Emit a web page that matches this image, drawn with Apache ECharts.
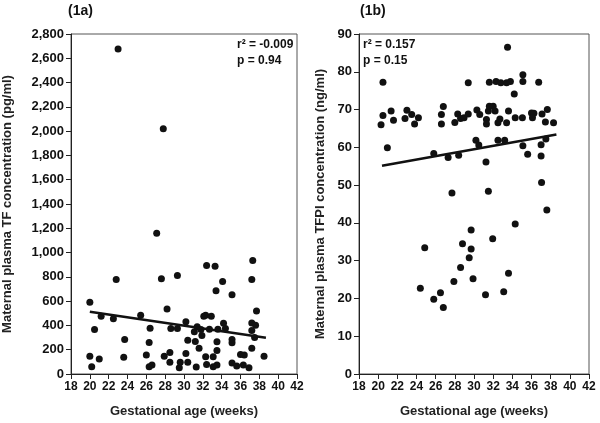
<!DOCTYPE html>
<html><head><meta charset="utf-8">
<script src="https://cdn.jsdelivr.net/npm/echarts@6/dist/echarts.min.js"></script>
<style>html,body{margin:0;padding:0;background:#fff}#c{width:600px;height:423px}</style>
</head><body><div id="c"></div>
<script>
// Panel (1a): TF concentration (pg/ml) vs gestational age (weeks)
const tfWeeks = [20.0,20.0,20.2,20.5,21.0,21.2,22.5,22.8,23.7,23.6,25.4,26.0,26.3,26.4,26.3,26.6,27.6,27.9,28.2,28.5,28.5,28.6,29.3,29.3,29.5,29.6,30.2,30.2,30.4,30.4,31.1,31.2,31.3,31.4,31.6,31.8,31.9,32.1,32.3,32.3,32.4,32.4,32.7,32.9,33.1,33.1,33.3,33.4,33.5,33.5,33.5,33.6,34.1,34.2,34.4,35.1,35.1,35.1,35.1,35.6,36.0,36.4,36.3,36.9,37.2,37.2,37.3,37.2,37.2,37.5,37.6,37.7,38.5,23.0,27.8,27.1];
const tfValues = [590,147,60,366,123,475,456,778,284,137,483,156,259,377,60,74,784,147,535,177,96,374,811,374,52,96,431,169,278,96,347,268,57,390,213,366,317,475,483,142,893,79,369,475,142,60,887,685,194,265,74,369,762,418,374,653,284,257,90,66,161,156,74,52,213,778,934,358,420,300,401,519,147,2677,2019,1159];
const tfFitWeeks = [20.0, 38.7];
const tfFitValues = [513, 298];

// Panel (1b): TFPI concentration (ng/ml) vs gestational age (weeks)
const tfpiWeeks = [20.5,20.5,20.3,21.35,21.6,23.0,22.8,23.5,23.8,24.2,26.6,26.6,26.8,28.0,28.3,28.6,28.96,29.4,29.4,30.3,30.6,31.3,31.3,31.5,31.6,32.0,31.6,32.3,32.2,32.7,32.5,32.8,33.4,33.5,33.4,33.8,33.6,34.2,34.3,35.1,35.1,35.05,36.0,36.25,36.1,36.75,37.1,37.65,37.45,38.3,20.96,25.8,27.3,28.4,30.2,30.5,32.5,33.2,31.25,31.5,27.7,35.1,35.6,37.0,37.0,37.5,37.05,37.6,34.3,24.86,28.8,29.7,29.7,31.95,29.5,28.6,24.4,25.8,26.5,26.8,27.9,29.9,31.2,33.1,33.6];
const tfpiValues = [77.2,68.4,66.0,69.6,67.2,69.8,67.6,68.7,66.2,67.8,68.7,66.2,70.8,66.6,68.8,67.6,67.8,77.1,68.8,69.9,68.7,67.4,66.2,69.6,70.9,70.9,77.2,77.4,69.6,67.5,66.5,77.1,66.5,86.5,77.1,77.4,69.6,74.1,67.8,79.2,77.4,67.8,69.1,69.0,67.8,77.2,68.8,70.0,66.7,66.5,59.9,58.4,57.3,57.9,61.9,60.6,61.9,61.9,56.1,48.4,47.9,60.4,58.2,60.7,57.7,62.2,50.7,43.4,39.7,33.4,34.5,38.1,33.1,35.8,30.8,28.2,22.7,19.8,21.5,17.6,24.5,25.2,21.0,21.8,26.7];
const tfpiFitWeeks = [20.4, 38.6];
const tfpiFitValues = [55.1, 63.4];

const xTicks = {min: 18, max: 42, interval: 2};
const tfTicks = {min: 0, max: 2800, interval: 200};
const tfpiTicks = {min: 0, max: 90, interval: 10};

const zip = (a, b) => a.map((v, i) => [v, b[i]]);
const FONT = 'Liberation Sans';
const ink = '#111';

const chart = echarts.init(document.getElementById('c'), null, {renderer: 'canvas'});
const xAxisBase = (gi) => ({
  type: 'value', gridIndex: gi, min: xTicks.min, max: xTicks.max, interval: xTicks.interval,
  name: 'Gestational age (weeks)', nameLocation: 'middle', nameGap: 31,
  nameTextStyle: {fontFamily: FONT, fontWeight: 'bold', fontSize: 13, color: '#222'},
  axisLine: {show: true, onZero: false, lineStyle: {color: '#222', width: 1}},
  axisTick: {show: true, length: 5, lineStyle: {color: '#222'}},
  axisLabel: {fontFamily: FONT, fontWeight: 'bold', fontSize: 12, color: '#111', margin: 7},
  splitLine: {show: false}
});
const yAxisBase = (gi, t, name, gap, fmt) => ({
  type: 'value', gridIndex: gi, min: t.min, max: t.max, interval: t.interval,
  name: name, nameLocation: 'middle', nameGap: gap,
  nameTextStyle: {fontFamily: FONT, fontWeight: 'bold', fontSize: 13, color: '#222'},
  axisLine: {show: true, onZero: false, lineStyle: {color: '#222', width: 1}},
  axisTick: {show: true, length: 5, lineStyle: {color: '#222'}},
  axisLabel: {fontFamily: FONT, fontWeight: 'bold', fontSize: 13, color: '#111', margin: 7, formatter: fmt},
  splitLine: {show: false}
});
const txt = (text, left, top, size) => ({
  text: text, left: left, top: top, padding: 0,
  textStyle: {fontFamily: FONT, fontWeight: 'bold', fontSize: size, color: '#111'}
});

chart.setOption({
  animation: false,
  backgroundColor: '#fff',
  title: [
    txt('(1a)', 68, 4, 14),
    txt('(1b)', 360, 4, 14),
    txt('r² = -0.009', 237, 39, 12),
    txt('p = 0.94', 237, 55, 12),
    txt('r² = 0.157', 363, 39, 12),
    txt('p = 0.15', 363, 55, 12)
  ],
  grid: [
    {left: 67, right: 303, top: 34, bottom: 47, show: true, borderColor: '#555', borderWidth: 1, backgroundColor: 'transparent'},
    {left: 359, right: 11, top: 34, bottom: 47, show: true, borderColor: '#555', borderWidth: 1, backgroundColor: 'transparent'}
  ],
  xAxis: [xAxisBase(0), xAxisBase(1)],
  yAxis: [
    yAxisBase(0, tfTicks, 'Maternal plasma TF concentration (pg/ml)', 57, v => v.toLocaleString('en-US')),
    yAxisBase(1, tfpiTicks, 'Maternal plasma TFPI concentration (ng/ml)', 32, v => String(v))
  ],
  series: [
    {type: 'scatter', xAxisIndex: 0, yAxisIndex: 0, data: zip(tfWeeks, tfValues), symbolSize: 7, itemStyle: {color: ink, opacity: 1}},
    {type: 'line', xAxisIndex: 0, yAxisIndex: 0, data: zip(tfFitWeeks, tfFitValues), symbol: 'none', lineStyle: {color: ink, width: 2.5}},
    {type: 'scatter', xAxisIndex: 1, yAxisIndex: 1, data: zip(tfpiWeeks, tfpiValues), symbolSize: 7, itemStyle: {color: ink, opacity: 1}},
    {type: 'line', xAxisIndex: 1, yAxisIndex: 1, data: zip(tfpiFitWeeks, tfpiFitValues), symbol: 'none', lineStyle: {color: ink, width: 2.5}}
  ]
});
</script></body></html>
